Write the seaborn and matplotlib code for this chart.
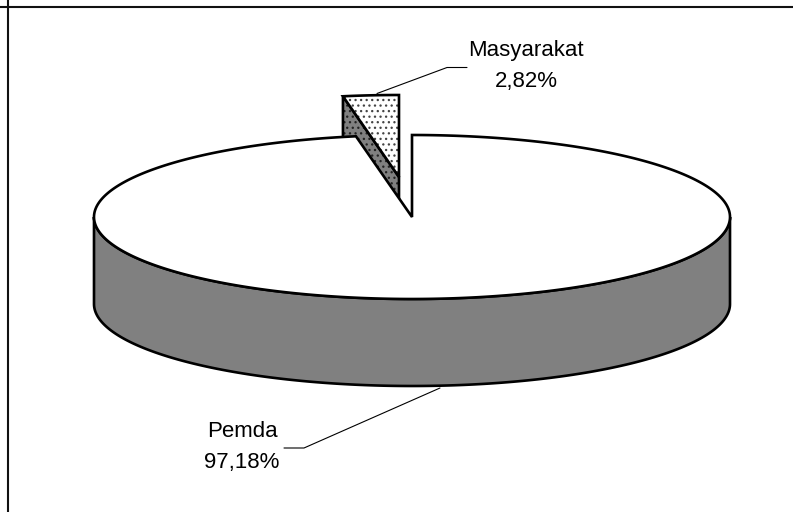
import numpy as np
import matplotlib
matplotlib.use("Agg")
import matplotlib.pyplot as plt
from matplotlib.patches import Polygon
import seaborn as sns

# ---- data ----
categories = ["Pemda", "Masyarakat"]
shares = [97.18, 2.82]

# ---- style ----
sns.set_theme(style="white")
plt.rcParams["font.family"] = ["Liberation Sans", "DejaVu Sans"]
plt.rcParams["hatch.linewidth"] = 0.9

W, H = 793, 512
CX, CY, RX, RY = 412, 217, 318, 82
DEPTH = 87
EXPLODE = (-13, -40)
LW = 1.9
GREY = "#808080"


def rim(t_deg, offset=(0, 0)):
    t = np.radians(np.asarray(t_deg, dtype=float))
    return np.column_stack([CX + offset[0] + RX * np.sin(t),
                            CY + offset[1] - RY * np.cos(t)])


fig = plt.figure(figsize=(W / 100, H / 100), dpi=100, facecolor="white")
ax = fig.add_axes([0, 0, 1, 1])
ax.set_xlim(0, W)
ax.set_ylim(H, 0)
ax.set_xticks([])
ax.set_yticks([])
ax.patch.set_alpha(0)
for side in ("right", "bottom"):
    ax.spines[side].set_visible(False)
ax.spines["left"].set_position(("data", 7.5))
ax.spines["top"].set_position(("data", 6.5))
for side in ("left", "top"):
    ax.spines[side].set_linewidth(1.5)
    ax.spines[side].set_color("#111111")

split = 360 * shares[0] / sum(shares)


def poly(pts, face, z, hatch=None, hatch_col="black"):
    if hatch:
        ax.add_patch(Polygon(pts, closed=True, facecolor=face, edgecolor=hatch_col,
                             hatch=hatch, linewidth=0, zorder=z))
        ax.add_patch(Polygon(pts, closed=True, facecolor="none", edgecolor="black",
                             linewidth=LW, joinstyle="miter", zorder=z + 0.1))
    else:
        ax.add_patch(Polygon(pts, closed=True, facecolor=face, edgecolor="black",
                             linewidth=LW, joinstyle="miter", zorder=z))


# exploded small slice: cut face first, then top
apex = np.array([[CX + EXPLODE[0], CY + EXPLODE[1]]])
left = rim([split], EXPLODE)
down = np.array([[0, DEPTH]])
poly(np.vstack([apex, left, left + down, apex + down]), GREY, 2, "...", "#222222")
arc_small = rim(np.linspace(split, 360, 30), EXPLODE)
poly(np.vstack([apex, arc_small]), "white", 3, "...", "#444444")

# main body: wall of the front half, then top surface
front = rim(np.linspace(270, 90, 200))
poly(np.vstack([front, (front + down)[::-1]]), GREY, 4)
arc_big = rim(np.linspace(0, split, 500))
poly(np.vstack([[[CX, CY]], arc_big]), "white", 5)


def label(name, value):
    return f"{name}\n{value:.2f}".replace(".", ",") + "%"


text_kw = dict(ha="center", va="center", multialignment="center", fontsize=16,
               color="black", linespacing=1.62, zorder=7)
ax.text(526, 66, label(categories[1], shares[1]), **text_kw)
ax.text(242, 447, label(categories[0], shares[0]), **text_kw)

ax.plot([377, 447, 467], [93.5, 67.5, 67.5], color="black", lw=0.8, zorder=6)
ax.plot([440, 304, 284], [388, 448, 448], color="black", lw=0.8, zorder=6)

fig.savefig("out.png", dpi=100, facecolor="white")
